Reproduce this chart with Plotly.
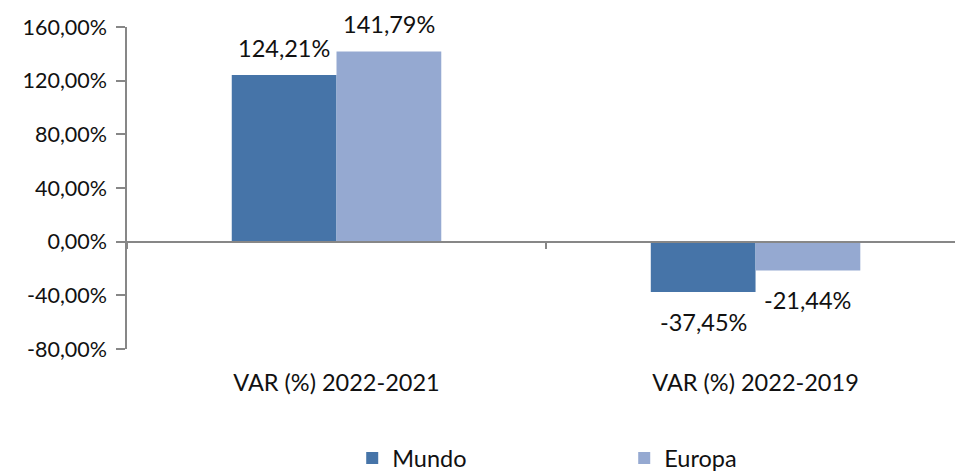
import plotly.graph_objects as go

categories = ["VAR (%) 2022-2021", "VAR (%) 2022-2019"]
mundo = [124.21, -37.45]
europa = [141.79, -21.44]
y_ticks = [-80, -40, 0, 40, 80, 120, 160]

FONT = "Lato"
GRAY = "#878787"
FS = 23.5


def pct(v):
    return f"{v:.2f}%".replace(".", ",")


fig = go.Figure()
fig.add_trace(go.Bar(name="Mundo", x=categories, y=mundo, marker_color="#4674A8",
                     marker_line_width=0))
fig.add_trace(go.Bar(name="Europa", x=categories, y=europa, marker_color="#95A9D1",
                     marker_line_width=0))

# data labels (offset to each bar of the group)
half_bar = 52.4
for vals, xs in ((mundo, -half_bar), (europa, half_bar)):
    for c, v in zip(categories, vals):
        fig.add_annotation(x=c, y=v, xref="x", yref="y", text=pct(v), showarrow=False,
                           xshift=xs, yshift=27 if v >= 0 else -30, yanchor="middle",
                           font=dict(size=FS, family=FONT, color="#111111"))

fig.update_layout(
    width=955, height=471,
    margin=dict(l=127, r=0, t=27, b=122, autoexpand=False),
    paper_bgcolor="white", plot_bgcolor="white",
    barmode="group", bargap=0.5, bargroupgap=0,
    font=dict(family=FONT, size=FS, color="#111111"),
    showlegend=True,
    legend=dict(orientation="h", x=0.272, xanchor="left", y=-0.339, yanchor="middle",
                entrywidth=227, entrywidthmode="pixels",
                font=dict(size=FS, family=FONT)),
    xaxis=dict(type="category", range=[-0.5, 1.476], anchor="free", position=1/3,
               showline=True, linecolor=GRAY, linewidth=1.5, automargin=False,
               ticks="outside", tickson="boundaries", ticklen=7, tickwidth=1.5,
               tickcolor=GRAY, showgrid=False, zeroline=False, ticklabelstandoff=120,
               tickfont=dict(size=FS, family=FONT)),
    yaxis=dict(range=[-80, 160], tickvals=y_ticks, ticktext=[pct(v) for v in y_ticks],
               showline=True, linecolor=GRAY, linewidth=1.5, ticks="outside",
               ticklen=9, tickwidth=1.5, tickcolor=GRAY, showgrid=False,
               zeroline=False, tickfont=dict(size=21.5, family=FONT),
               ticklabelstandoff=5, automargin=False),
)

fig.write_html("out.html", config={"displayModeBar": False},
               post_script="document.body.style.margin='0';document.body.style.overflow='hidden';")
